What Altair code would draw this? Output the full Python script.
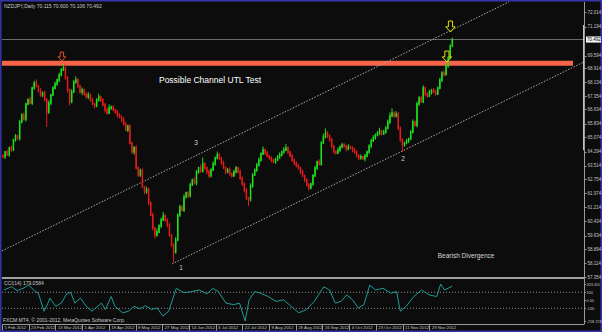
import altair as alt
import pandas as pd

# ---------------- data ----------------
first_open = 64.05
closes = [
64.00,64.27,64.11,64.49,64.40,64.94,65.16,65.02,65.93,66.32,
66.10,66.93,67.15,66.98,67.81,68.09,67.92,67.70,67.42,67.54,
67.15,66.48,66.98,67.42,67.81,68.03,68.25,68.53,68.81,68.92,
68.37,67.70,67.04,67.59,68.14,68.25,67.92,67.59,67.70,67.48,
67.31,67.42,67.15,66.93,66.82,67.15,67.31,67.15,66.87,66.60,
66.43,66.71,66.76,66.60,66.48,66.32,66.21,66.04,65.82,65.49,
65.70,64.77,64.27,64.50,63.39,63.00,63.25,62.34,62.06,62.20,
61.45,60.79,60.07,59.68,59.85,60.18,60.51,60.73,60.51,60.24,
59.68,59.13,58.74,59.41,60.79,61.23,61.05,61.78,62.01,61.85,
62.45,62.72,62.55,63.17,63.39,63.20,63.61,63.39,63.17,62.95,
63.28,63.61,63.94,64.11,63.94,63.66,63.39,63.17,63.28,63.06,
62.95,63.17,63.39,63.17,62.83,62.50,62.17,61.73,61.62,62.39,
63.00,63.28,63.55,63.83,64.16,64.38,64.22,64.05,63.94,63.83,
63.72,63.83,64.00,64.11,64.27,64.38,64.49,64.27,64.05,63.83,
63.66,63.50,63.39,63.17,62.95,62.72,62.45,62.28,62.50,62.95,
63.39,63.72,63.60,64.77,65.10,65.32,65.16,64.94,64.60,64.27,
64.22,64.38,64.55,64.66,64.60,64.44,64.55,64.49,64.38,64.27,
64.05,63.94,64.00,63.89,64.05,64.27,64.60,64.88,65.05,65.21,
65.32,65.43,65.27,65.38,65.60,65.93,66.26,66.43,66.26,66.37,
65.60,64.94,64.66,64.77,64.88,64.99,65.38,65.93,65.75,66.93,
67.26,67.05,67.81,67.48,67.37,67.59,67.70,67.59,67.48,67.81,
68.25,68.64,68.55,69.03,69.47,70.115,70.492]
wick_up = [
0.10,0.06,0.12,0.08,0.15,0.05,0.10,0.07,0.12,0.09,
0.14,0.06,0.10,0.18,0.08,0.12,0.20,0.06,0.10,0.08,
0.12,0.10,0.15,0.06,0.10,0.14,0.08,0.12,0.10,0.22,
0.18,0.10,0.08,0.15,0.12,0.20,0.10,0.06,0.14,0.08,
0.10,0.16,0.08,0.12,0.06,0.10,0.18,0.08,0.10,0.12,
0.14,0.20,0.08,0.10,0.06,0.12,0.10,0.08,0.15,0.10,
0.08,0.12,0.06,0.10,0.14,0.08,0.10,0.12,0.06,0.15,
0.10,0.08,0.12,0.06,0.18,0.10,0.14,0.22,0.10,0.08,
0.12,0.06,0.10,0.15,0.08,0.12,0.10,0.14,0.06,0.10,
0.12,0.08,0.16,0.10,0.06,0.20,0.35,0.10,0.08,0.12,
0.10,0.14,0.08,0.18,0.10,0.06,0.12,0.08,0.10,0.15,
0.08,0.12,0.10,0.06,0.14,0.08,0.10,0.12,0.06,0.15,
0.10,0.08,0.12,0.14,0.10,0.20,0.08,0.12,0.06,0.10,
0.08,0.12,0.10,0.14,0.08,0.16,0.22,0.10,0.06,0.12,
0.08,0.10,0.12,0.06,0.14,0.08,0.10,0.12,0.06,0.10,
0.12,0.08,0.15,0.10,0.18,0.25,0.10,0.08,0.12,0.06,
0.10,0.14,0.08,0.12,0.10,0.06,0.15,0.08,0.10,0.12,
0.08,0.10,0.14,0.06,0.12,0.08,0.10,0.12,0.15,0.08,
0.10,0.18,0.08,0.12,0.10,0.14,0.20,0.25,0.10,0.15,
0.12,0.08,0.10,0.06,0.12,0.08,0.10,0.14,0.08,0.12,
0.10,0.12,0.15,0.08,0.10,0.12,0.06,0.10,0.14,0.08,
0.12,0.10,0.15,0.08,0.10,0.12,0.108]
wick_dn = [
0.08,0.12,0.06,0.10,0.14,0.08,0.10,0.06,0.12,0.08,
0.10,0.15,0.08,0.06,0.12,0.10,0.08,0.14,0.10,0.12,
0.08,0.82,0.10,0.12,0.06,0.08,0.10,0.12,0.08,0.06,
0.10,0.14,0.20,0.08,0.06,0.10,0.12,0.08,0.16,0.10,
0.08,0.12,0.10,0.06,0.14,0.08,0.10,0.12,0.08,0.15,
0.10,0.06,0.12,0.08,0.10,0.14,0.08,0.12,0.10,0.06,
0.12,0.08,0.10,0.15,0.08,0.12,0.10,0.06,0.14,0.10,
0.12,0.08,0.15,0.20,0.10,0.08,0.12,0.06,0.10,0.14,
0.10,0.12,0.61,0.10,0.08,0.12,0.06,0.10,0.08,0.12,
0.10,0.06,0.08,0.12,0.10,0.08,0.06,0.10,0.14,0.12,
0.08,0.06,0.10,0.08,0.12,0.10,0.06,0.14,0.08,0.10,
0.12,0.06,0.10,0.08,0.12,0.10,0.14,0.12,0.35,0.08,
0.10,0.06,0.12,0.08,0.10,0.06,0.12,0.08,0.10,0.14,
0.08,0.10,0.06,0.12,0.08,0.10,0.06,0.12,0.08,0.10,
0.12,0.08,0.10,0.14,0.08,0.12,0.10,0.15,0.08,0.10,
0.06,0.12,0.08,0.10,0.06,0.08,0.12,0.10,0.14,0.08,
0.10,0.06,0.12,0.08,0.10,0.14,0.08,0.06,0.12,0.10,
0.08,0.12,0.10,0.06,0.14,0.08,0.10,0.12,0.06,0.10,
0.08,0.12,0.10,0.06,0.10,0.08,0.12,0.06,0.10,0.08,
0.14,0.12,0.39,0.10,0.08,0.12,0.06,0.10,0.08,0.12,
0.10,0.06,0.08,0.12,0.10,0.06,0.14,0.08,0.10,0.06,
0.08,0.12,0.10,0.06,0.10,0.06,0.009]

# CCI(14) window, read point by point (bar position, value)
cci_i = [0.4, 4.1, 6.8, 9.6, 12.3, 15.1, 17.0, 19.7, 21.6, 22.5, 25.3, 28.0, 30.8, 32.6,
         34.5, 37.2, 40.0, 42.8, 44.6, 47.3, 49.2, 52.0, 53.8, 57.5, 60.3, 63.0, 65.8,
         68.5, 71.3, 74.1, 76.8, 79.6, 83.3, 87.0, 90.6, 94.3, 98.0, 100.8, 103.5, 107.2,
         110.9, 113.7, 116.4, 118.3, 121.0, 123.8, 127.5, 131.2, 134.8, 138.5, 142.2,
         145.9, 149.6, 154.2, 157.0, 159.7, 162.5, 165.2, 168.0, 170.8, 173.5, 176.3,
         179.1, 182.7, 186.4, 189.2, 191.0, 193.8, 197.5, 201.2, 204.8, 208.5, 210.4,
         212.2, 214.0, 216.0]
cci_v = [128, 169, 120, 149, 190, 120, 88, -137, -35, 27, -75, -35, 88, 96,
         -35, 27, -75, -137, -96, -35, -116, 47, -75, -157, -137, -75, -108,
         -67, -116, -96, -198, -137, 149, 96, 108, 129, 80, 149, 108, -35,
         -55, -35, -258, 6, 108, 88, 47, -14, 6, -75, -157,
         -116, -14, 169, 129, -35, -14, 67, 6, -96, -55, 190,
         129, 149, 88, 108, -137, -75, 47, 129, 67, 47, 203,
         129, 150, 179.06]

date_idx = [-0.5, 12.3, 25.2, 38.0, 50.8, 63.7, 76.5, 89.4, 102.2, 115.0,
            127.9, 140.7, 153.5, 166.4, 179.2, 192.1, 204.9]
date_labels = ["5 Feb 2012", "23 Feb 2012", "13 Mar 2012", "1 Apr 2012", "19 Apr 2012",
               "8 May 2012", "27 May 2012", "14 Jun 2012", "3 Jul 2012", "22 Jul 2012",
               "9 Aug 2012", "28 Aug 2012", "16 Sep 2012", "4 Oct 2012", "23 Oct 2012",
               "11 Nov 2012", "29 Nov 2012"]
price_ticks = [57.354, 58.114, 58.894, 59.634, 60.434, 61.214, 61.974, 62.754, 63.514,
               64.294, 65.074, 65.834, 66.634, 67.354, 68.134, 68.914, 69.594, 71.194, 72.014]
cci_ticks = [203.415, 100, 0, -100, -258.728]
cci_tick_labels = ["203.415", "100", "0.00", "-100", "-258.728"]
cci_levels = [100, -100]

bid_price = 70.492
band_price = 69.18
band_i = [-0.5, 274.0]
upper_i = [-0.5, 243.2]
upper_p = [58.80, 72.57]
lower_i = [81.3, 279.3]
lower_p = [58.08, 69.25]

note_text = ["Possible Channel UTL Test", "Bearish Divergence", "1", "2", "3"]
note_i = [99.5, 222.6, 85.6, 192.3, 92.8]
note_p = [68.25, 58.52, 57.86, 63.89, 64.77]
note_size = [8.5, 6.5, 6.5, 6.5, 6.5]
note_color = ["#ffffff", "#d4d4d4", "#cfcfcf", "#cfcfcf", "#cfcfcf"]

arrow_i = [28.3, 215.1, 213.4]
arrow_p = [69.55, 71.21, 69.55]
arrow_color = ["#e8502e", "#e2e200", "#e2e200"]
arrow_size = [80, 120, 120]

title_text = "NZDJPY,Daily  70.115 70.600 70.106 70.492"
cci_title = "CCI(14) 179.0584"
copyright_text = "FXCM MT4, \u00a9 2001-2012, MetaQuotes Software Corp."

# ---------------- tables ----------------
opens = [first_open] + closes[:-1]
n = len(closes)
df = pd.DataFrame({"i": list(range(n)), "open": opens, "close": closes})
df["high"] = [max(o, c) + w for o, c, w in zip(opens, closes, wick_up)]
df["low"] = [min(o, c) - w for o, c, w in zip(opens, closes, wick_dn)]
df["dir"] = ["up" if c >= o else "down" for o, c in zip(opens, closes)]

cci_df = pd.DataFrame({"i": cci_i, "cci": cci_v})

FONT = "Liberation Sans"
ARROW = "M -0.38 -1 L 0.38 -1 L 0.38 0.05 L 0.85 0.05 L 0 1 L -0.85 0.05 L -0.38 0.05 Z"

xs = alt.Scale(domain=[-0.5, 279.3], range=[2, 584], nice=False, zero=False)
ps = alt.Scale(domain=[57.354, 72.014], range=[277, 12], nice=False, zero=False)
cs = alt.Scale(domain=[-258.728, 203.415], range=[321, 284], nice=False, zero=False)

x_axis = alt.Axis(values=date_idx, orient="bottom", offset=-8, title=None,
                  labelExpr="%s[indexof(%s, datum.value)]" % (
                      "[" + ",".join("'%s'" % s for s in date_labels) + "]",
                      "[" + ",".join(str(v) for v in date_idx) + "]"),
                  labelAlign="left", labelBaseline="middle", labelPadding=-2.5,
                  labelOffset=2, labelFontSize=4.3, labelColor="#c4c4c4", labelFont=FONT,
                  tickSize=6, tickColor="#9a9a9a", domain=True, domainColor="#9a9a9a",
                  grid=False, labelOverlap=False, labelFlush=False)
p_axis = alt.Axis(values=price_ticks, orient="right", offset=-18, title=None,
                  format=".3f", labelFontSize=4.5, labelColor="#c4c4c4", labelFont=FONT,
                  tickSize=2, tickColor="#9a9a9a", domain=False, grid=False,
                  labelPadding=1, labelOverlap=False, labelFlush=False)
c_axis = alt.Axis(values=cci_ticks, orient="right", offset=-18, title=None,
                  labelExpr="%s[indexof(%s, datum.value)]" % (
                      "[" + ",".join("'%s'" % s for s in cci_tick_labels) + "]",
                      "[" + ",".join(str(v) for v in cci_ticks) + "]"),
                  labelFontSize=3.8, labelColor="#c4c4c4", labelFont=FONT,
                  tickSize=1.5, tickColor="#9a9a9a", domain=False, grid=False,
                  labelPadding=0.5, labelOverlap=False, labelFlush=False)

X = lambda f: alt.X(f, type="quantitative", scale=xs, axis=x_axis)
P = lambda f: alt.Y(f, type="quantitative", scale=ps, axis=p_axis)

col = alt.Color("dir:N", scale=alt.Scale(domain=["up", "down"], range=["#1fe01f", "#e31b1b"]),
                legend=None)

wicks = alt.Chart(df).mark_rule(strokeWidth=1).encode(x=X("i"), y=P("low"), y2="high", color=col)
bodies = alt.Chart(df).mark_rule(strokeWidth=1.5, strokeCap="square").encode(
    x=X("i"), y=P("open"), y2="close", color=col)

bid_df = pd.DataFrame({"p": [bid_price]})
bid = alt.Chart(bid_df).mark_rule(color="#6a6a6a", strokeWidth=1).encode(
    y=P("p"), x=alt.value(2), x2=alt.value(584))

band_df = pd.DataFrame({"i0": [band_i[0]], "i1": [band_i[1]], "p": [band_price]})
band = alt.Chart(band_df).mark_rule(color="#f8644a", strokeWidth=5).encode(
    x=X("i0"), x2="i1", y=P("p"))

lines_df = pd.DataFrame({
    "i": upper_i + lower_i, "p": upper_p + lower_p,
    "ln": ["upper", "upper", "lower", "lower"]})
channel = alt.Chart(lines_df).mark_line(color="#a9a9a9", strokeWidth=1, strokeDash=[1.5, 1.5]).encode(
    x=X("i"), y=P("p"), detail="ln:N")

notes_df = pd.DataFrame({"t": note_text, "i": note_i, "p": note_p,
                         "s": note_size, "c": note_color})
notes = alt.Chart(notes_df).mark_text(font=FONT, align="center", baseline="middle").encode(
    x=X("i"), y=P("p"), text="t:N", size=alt.Size("s:Q", scale=None, legend=None),
    color=alt.Color("c:N", scale=None, legend=None))

arrows_df = pd.DataFrame({"i": arrow_i, "p": arrow_p, "s": arrow_size, "c": arrow_color})
arrows = alt.Chart(arrows_df).mark_point(shape=ARROW, filled=False, strokeWidth=1, opacity=1).encode(
    x=X("i"), y=P("p"), size=alt.Size("s:Q", scale=None, legend=None),
    color=alt.Color("c:N", scale=None, legend=None))

box_df = pd.DataFrame({"p0": [bid_price - 0.17], "p1": [bid_price + 0.17],
                       "p": [bid_price], "t": ["%.3f" % bid_price]})
box = alt.Chart(box_df).mark_rect(color="#f4f4f4").encode(
    y=P("p0"), y2="p1", x=alt.value(586), x2=alt.value(601))
box_t = alt.Chart(box_df).mark_text(font=FONT, fontSize=4.5, color="#000000", align="left",
                                    baseline="middle").encode(y=P("p"), x=alt.value(587), text="t:N")

scroll_df = pd.DataFrame({"p0": [64.36], "p1": [71.30]})
scroll = alt.Chart(scroll_df).mark_rule(color="#ffffff", strokeWidth=1.5).encode(
    y=P("p0"), y2="p1", x=alt.value(584))

price_group = alt.layer(band, bid, channel, wicks, bodies, notes, arrows, box, box_t, scroll)

C = lambda f: alt.Y(f, type="quantitative", scale=cs, axis=c_axis)
lvl_df = pd.DataFrame({"v": cci_levels})
levels = alt.Chart(lvl_df).mark_rule(color="#8c8c8c", strokeWidth=1, strokeDash=[1, 2]).encode(
    y=C("v"), x=alt.value(2), x2=alt.value(584))
cci_line = alt.Chart(cci_df).mark_line(color="#1f9c96", strokeWidth=1).encode(x=X("i"), y=C("cci"))
cci_group = alt.layer(levels, cci_line)

# frame lines and fixed texts
frame_df = pd.DataFrame({"k": ["v"]})
vline = alt.Chart(frame_df).mark_rule(color="#9a9a9a", strokeWidth=1).encode(
    x=alt.value(584.5), y=alt.value(2), y2=alt.value(324))
sep = alt.Chart(frame_df).mark_rule(color="#a0a0a0", strokeWidth=2).encode(
    x=alt.value(2), x2=alt.value(584), y=alt.value(278))

txt_df = pd.DataFrame({"t": [title_text, cci_title, copyright_text],
                       "x": [4, 4, 3], "y": [6, 283, 320]})
texts = alt.Chart(txt_df).mark_text(font=FONT, fontSize=5, color="#c8c8c8", align="left",
                                    baseline="middle").encode(
    x=alt.X("x:Q", scale=None), y=alt.Y("y:Q", scale=None), text="t:N")

chart = alt.layer(price_group, cci_group, vline, sep, texts).resolve_scale(
    y="independent").properties(
    width=602, height=332, padding=0, autosize=alt.AutoSizeParams(type="none"),
    background="#0c0c0c"
).configure_view(fill="#0c0c0c", stroke="#3434a8", strokeWidth=3)

chart.save("out.html", embed_options={"renderer": "svg", "actions": False})
